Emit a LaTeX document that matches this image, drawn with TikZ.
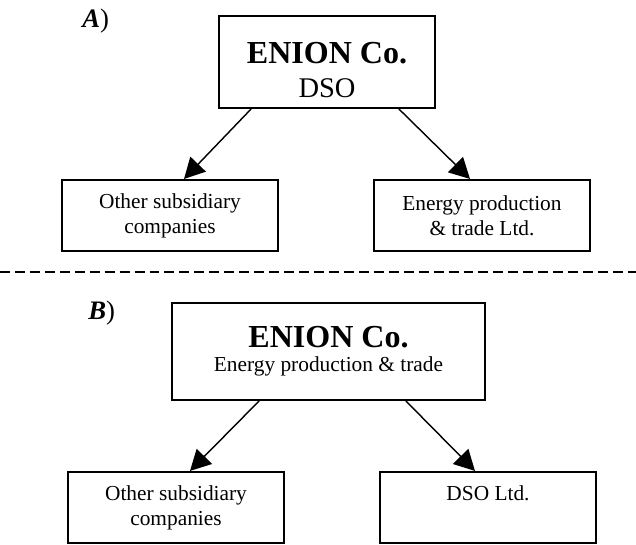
\documentclass[tikz,border=0pt]{standalone}
\usepackage{fontspec}
\setmainfont{Liberation Serif}
\usetikzlibrary{arrows.meta,positioning,calc}
\tikzset{
  orgbox/.style={draw=black, line width=1.1pt, fill=white, inner sep=0pt},
  subbox/.style={draw=black, line width=1.1pt, fill=white, align=center, inner sep=0pt, minimum width=121.3pt, minimum height=40pt, font=\fontsize{12}{14}\selectfont},
  arrow/.style={-{Triangle[length=11.5pt, width=12pt]}, line width=0.8pt, draw=black},
  headtext/.style={inner sep=0pt, anchor=base, font=\fontsize{18}{20}\selectfont\bfseries},
  plaintext/.style={inner sep=0pt, anchor=base, font=\fontsize{12}{14}\selectfont},
  tagtext/.style={inner sep=0pt, anchor=base west, font=\fontsize{15}{17}\selectfont},
  divider/.style={line width=0.8pt, dash pattern=on 5.6pt off 2.8pt}
}
\begin{document}
\begin{tikzpicture}[x=0.5618pt, y=-0.5618pt]
  \useasboundingbox (0,0) rectangle (636,544);
  % A) present structure
  \node[tagtext] (tagA) at (82,27) {\textbf{\textit{A}})};
  \node[orgbox, minimum width=121.3pt, minimum height=51.7pt] (enionA) at (327,62) {};
  \node[headtext] (enionAname) at (327,63) {ENION Co.};
  \node[plaintext, font=\fontsize{16}{18}\selectfont] (enionArole) at (327,97) {DSO};
  \node[subbox] (otherA) at (170,215.5) {Other subsidiary\\companies};
  \node[subbox] (tradeA) at (482,215.5) {Energy production\\\& trade Ltd.};
  \draw[arrow] ($(enionA.south west)+(33,0)$) -- ($(otherA.north)+(14,0)$);
  \draw[arrow] ($(enionA.south east)+(-37,0)$) -- ($(tradeA.north)+(-12,0)$);
  % dashed separator
  \coordinate (sepL) at (0,272);
  \coordinate (sepR) at (636,272);
  \draw[divider] (sepL) -- (sepR);
  % B) new structure
  \node[tagtext] (tagB) at (88,319) {\textbf{\textit{B}})};
  \node[orgbox, minimum width=175.8pt, minimum height=54.5pt] (enionB) at (328.5,351.5) {};
  \node[headtext] (enionBname) at (328.5,347) {ENION Co.};
  \node[plaintext] (enionBrole) at (328.5,371) {Energy production \& trade};
  \node[subbox] (otherB) at (176,507.5) {Other subsidiary\\companies};
  \node[subbox] (dsoB) at (488,507.5) {};
  \node[plaintext] (dsoBname) at (488,500) {DSO Ltd.};
  \draw[arrow] ($(enionB.south west)+(88,0)$) -- ($(otherB.north)+(14,0)$);
  \draw[arrow] ($(enionB.south east)+(-80,0)$) -- ($(dsoB.north)+(-13,0)$);
\end{tikzpicture}
\end{document}
